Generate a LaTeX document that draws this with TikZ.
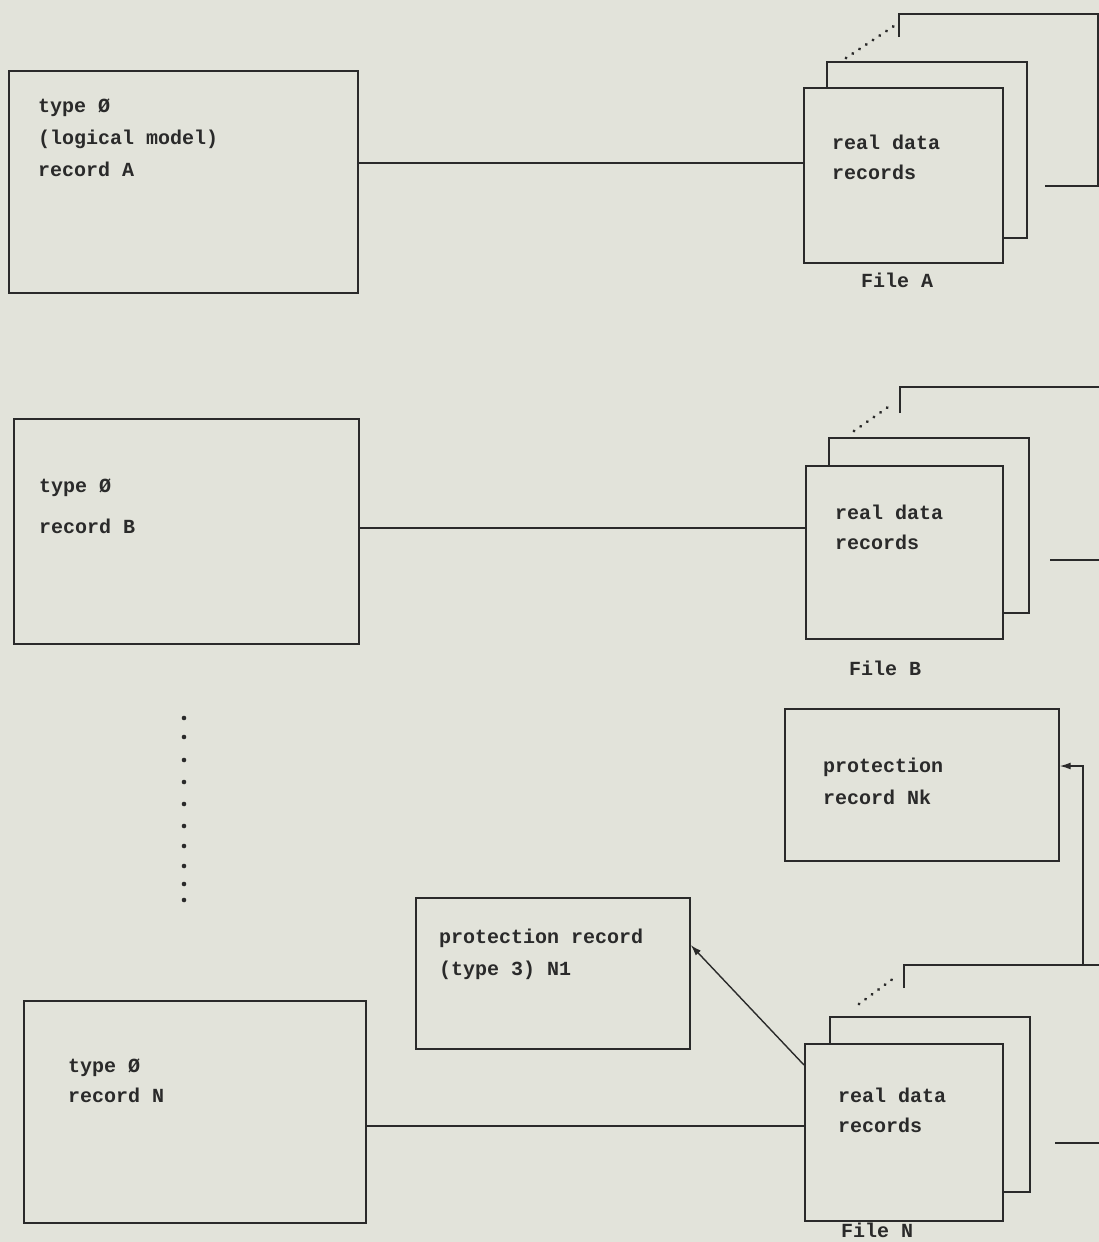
\documentclass[tikz,border=0pt]{standalone}
\usepackage{fontspec}
\setmonofont{Liberation Mono}
\usetikzlibrary{arrows.meta,calc}
\definecolor{paper}{HTML}{E2E3DA}
\definecolor{ink}{HTML}{2A2A2A}
\begin{document}
\begin{tikzpicture}[x=1pt,y=-1pt,
  boxline/.style={draw=ink,line width=1.7pt},
  conn/.style={draw=ink,line width=1.4pt},
  recbox/.style={boxline,rectangle,inner sep=0pt,anchor=north west},
  txt/.style={font=\ttfamily\bfseries\fontsize{20}{24}\selectfont,text=ink,anchor=mid west,inner sep=0pt},
  flabel/.style={font=\ttfamily\bfseries\fontsize{20}{24}\selectfont,text=ink,anchor=mid,inner sep=0pt},
  dotline/.style={draw=ink,line width=3.2pt,line cap=round,dash pattern=on 0.1pt off 8pt},
  tip/.style={-{Latex[length=11pt,width=7pt]}}]
\fill[paper] (0,0) rectangle (1099,1242);
\useasboundingbox (0,0) rectangle (1099,1242);
\clip (0,0) rectangle (1099,1242);

% logical record boxes
\node[recbox,minimum width=349pt,minimum height=222pt] (boxA) at (8,70) {};
\node[recbox,minimum width=345pt,minimum height=225pt] (boxB) at (13,418) {};
\node[recbox,minimum width=342pt,minimum height=222pt] (boxN) at (23,1000) {};

% protection records
\node[recbox,minimum width=274pt,minimum height=152pt] (Nk) at (784,708) {};
\node[recbox,minimum width=274pt,minimum height=151pt] (N1) at (415,897) {};

% file stacks: front boxes
\node[recbox,minimum width=199pt,minimum height=175pt] (fA) at (803,87) {};
\node[recbox,minimum width=197pt,minimum height=173pt] (fB) at (805,465) {};
\node[recbox,minimum width=198pt,minimum height=177pt] (fN) at (804,1043) {};

% File A stack
\draw[boxline] (827,87) -- (827,62) -- (1027,62) -- (1027,238) -- (1002,238);
\draw[boxline] (899,37) -- (899,14) -- (1098,14) -- (1098,186) -- (1045,186);
\draw[dotline] (846,58) -- (894,26);
% File B stack
\draw[boxline] (829,465) -- (829,438) -- (1029,438) -- (1029,613) -- (1002,613);
\draw[boxline] (900,413) -- (900,387) -- (1110,387);
\draw[boxline] (1050,560) -- (1110,560);
\draw[dotline] (854,431) -- (891,405);
% File N stack
\draw[boxline] (830,1043) -- (830,1017) -- (1030,1017) -- (1030,1192) -- (1002,1192);
\draw[boxline] (904,988) -- (904,965) -- (1110,965);
\draw[boxline] (1055,1143) -- (1110,1143);
\draw[dotline] (859,1004) -- (894,978);

% texts
\node[txt] (tA1) at (38,110) {type Ø};
\node[txt] (tA2) at (38,142) {(logical model)};
\node[txt] (tA3) at (38,174) {record A};
\node[txt] (tB1) at (39,490) {type Ø};
\node[txt] (tB2) at (39,531) {record B};
\node[txt] (tN1) at (68,1070) {type Ø};
\node[txt] (tN2) at (68,1100) {record N};
\node[txt] (rA1) at (832,147) {real data};
\node[txt] (rA2) at (832,177) {records};
\node[txt] (rB1) at (835,517) {real data};
\node[txt] (rB2) at (835,547) {records};
\node[txt] (rN1) at (838,1100) {real data};
\node[txt] (rN2) at (838,1130) {records};
\node[txt] (pk1) at (823,770) {protection};
\node[txt] (pk2) at (823,802) {record Nk};
\node[txt] (p11) at (439,941) {protection record};
\node[txt] (p12) at (439,973) {(type 3) N1};
\node[flabel] (lA) at (897,285) {File A};
\node[flabel] (lB) at (885,673) {File B};
\node[flabel] (lN) at (877,1235) {File N};

% vertical dots
\foreach \yy in {718,737,760,782,804,826,846,866,884,900}
  \fill[ink] (184,\yy) circle (2.3pt);

% connectors
\coordinate (yA) at (0,163);
\coordinate (yB) at (0,528);
\coordinate (yN) at (0,1126);
\draw[conn] (boxA.east |- yA) -- (fA.west |- yA);
\draw[conn] (boxB.east |- yB) -- (fB.west |- yB);
\draw[conn] (boxN.east |- yN) -- (fN.west |- yN);

\coordinate (nkj) at (1083,965);
\coordinate (nky) at (0,766);
\draw[conn,tip] (nkj) |- (Nk.east |- nky);
\draw[conn,tip] ($(fN.north west)+(0,22)$) -- ($(N1.north east)+(0,48)$);
\end{tikzpicture}
\end{document}
